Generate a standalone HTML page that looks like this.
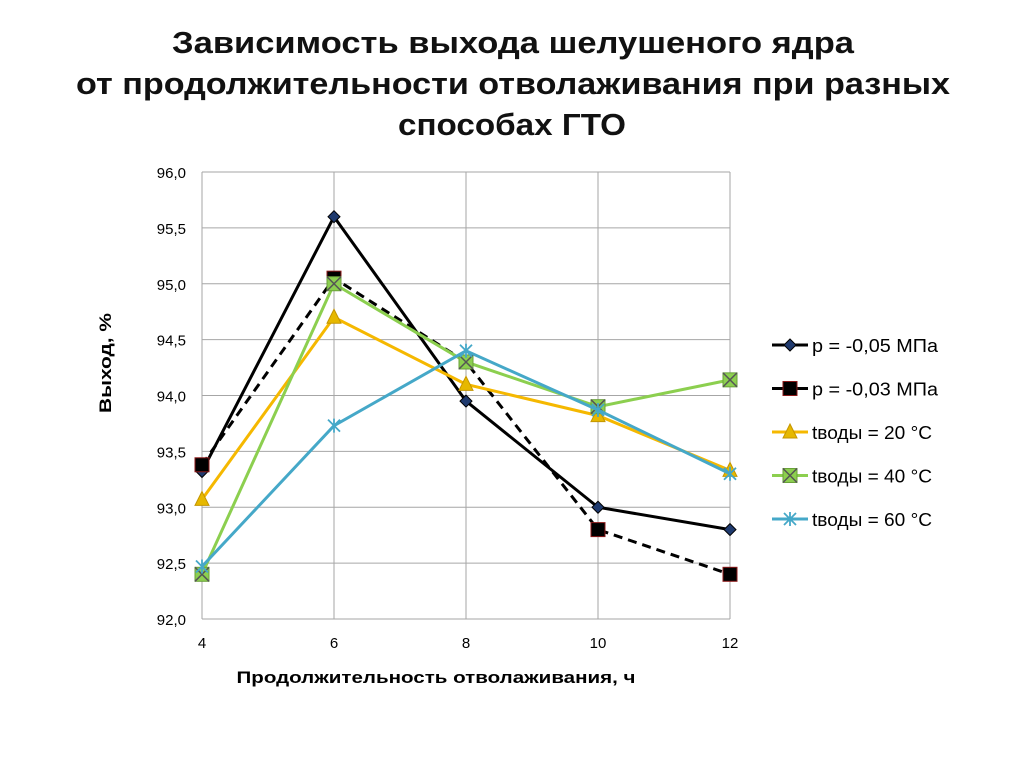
<!DOCTYPE html>
<html><head><meta charset="utf-8"><style>
body{margin:0;background:#fff;width:1024px;height:767px;overflow:hidden;font-family:"Liberation Sans","DejaVu Sans",sans-serif}
</style></head><body>
<svg id="c" width="1024" height="767" font-family="Liberation Sans, DejaVu Sans, sans-serif">
<g font-size="31" font-weight="bold" text-anchor="middle" fill="#111">
<text x="513" y="53" textLength="682" lengthAdjust="spacingAndGlyphs">Зависимость выхода шелушеного ядра</text>
<text x="513" y="94" textLength="874" lengthAdjust="spacingAndGlyphs">от продолжительности отволаживания при разных</text>
<text x="512" y="135" textLength="228" lengthAdjust="spacingAndGlyphs">способах ГТО</text>
</g>
<g id="grid"></g><g id="axes"></g><g id="series"></g>
<text transform="translate(111,363) rotate(-90)" text-anchor="middle" font-size="17" font-weight="bold" textLength="100" lengthAdjust="spacingAndGlyphs">Выход, %</text>
<text x="436" y="683" text-anchor="middle" font-size="17" font-weight="bold" textLength="399" lengthAdjust="spacingAndGlyphs">Продолжительность отволаживания, ч</text>
<g id="legend"></g>
</svg>
<script>
const xCats=[4,6,8,10,12];
const yTicks=[92.0,92.5,93.0,93.5,94.0,94.5,95.0,95.5,96.0];
const names=["p = -0,05 МПа","p = -0,03 МПа","tводы = 20 °C","tводы = 40 °C","tводы = 60 °C"];
const nameLens=[126,126,120,120,120];
const s1=[93.32,95.6,93.95,93.0,92.8];
const s2=[93.38,95.05,94.3,92.8,92.4];
const s3=[93.07,94.7,94.1,93.82,93.33];
const s4=[92.4,95.0,94.3,93.9,94.14];
const s5=[92.47,93.73,94.4,93.87,93.3];
const NS="http://www.w3.org/2000/svg";
const X=v=>202+(v-4)*(528/8);
const Y=v=>619-(v-92)*(447/4);
function el(t,a,p){const e=document.createElementNS(NS,t);for(const k in a)e.setAttribute(k,a[k]);p.appendChild(e);return e;}
const grid=document.getElementById('grid'),axes=document.getElementById('axes'),ser=document.getElementById('series'),leg=document.getElementById('legend');
yTicks.forEach(t=>{const l=el('line',{x1:202,x2:730,y1:Y(t),y2:Y(t),stroke:'#a6a6a6','stroke-width':1},grid);


const tx=el('text',{x:186,y:Y(t)+6,'text-anchor':'end','font-size':15},axes);tx.textContent=t.toFixed(1).replace('.',',');

});
xCats.forEach(c=>{const l=el('line',{x1:X(c),x2:X(c),y1:Y(96),y2:Y(92),stroke:'#a6a6a6','stroke-width':1},grid);


const tx=el('text',{x:X(c),y:648,'text-anchor':'middle','font-size':15},axes);tx.textContent=c;

});
const styles=[
{d:s1,c:'#000',dash:'',m:'diamond',f:'#1f3a6e'},
{d:s2,c:'#000',dash:'9,6',m:'square',f:'#000'},
{d:s3,c:'#f5b800',dash:'',m:'tri',f:'#e6b800'},
{d:s4,c:'#8ccf4f',dash:'',m:'xsq',f:'#8ccf4f'},
{d:s5,c:'#45a8c8',dash:'',m:'star',f:'#45a8c8'}];
function marker(g,m,x,y,f){
if(m==='diamond'){el('polygon',{points:`${x},${y-6} ${x+6},${y} ${x},${y+6} ${x-6},${y}`,fill:f,stroke:'#000','stroke-width':1},g);}
else if(m==='square'){el('rect',{x:x-7,y:y-7,width:14,height:14,fill:'#000',stroke:'#8b1a1a','stroke-width':1},g);}
else if(m==='tri'){el('polygon',{points:`${x},${y-8} ${x+7},${y+6} ${x-7},${y+6}`,fill:f,stroke:'#c49500','stroke-width':1},g);}
else if(m==='xsq'){el('rect',{x:x-7,y:y-7,width:14,height:14,fill:f,stroke:'#6aa03a'},g);el('path',{d:`M${x-7} ${y-7}L${x+7} ${y+7}M${x+7} ${y-7}L${x-7} ${y+7}`,stroke:'#555','stroke-width':1.5},g);}
else {el('path',{d:`M${x-6} ${y-6}L${x+6} ${y+6}M${x+6} ${y-6}L${x-6} ${y+6}M${x} ${y-7}L${x} ${y+7}`,stroke:f,'stroke-width':1.8},g);}
}
styles.forEach((s,i)=>{
const g=el('g',{},ser);


const pl=el('polyline',{points:s.d.map((v,j)=>X(xCats[j])+','+Y(v)).join(' '),fill:'none',stroke:s.c,'stroke-width':3,'stroke-dasharray':s.dash},g);


s.d.forEach((v,j)=>marker(g,s.m,X(xCats[j]),Y(v),s.f));
const ly=345+i*43.5;
const lg=el('g',{},leg);


el('line',{x1:772,x2:808,y1:ly,y2:ly,stroke:s.c,'stroke-width':3},lg);
marker(lg,s.m,790,ly,s.f);
const t=el('text',{x:812,y:ly+7,'font-size':18,textLength:nameLens[i],lengthAdjust:'spacingAndGlyphs'},lg);t.textContent=names[i];
});
</script>
</body></html>
